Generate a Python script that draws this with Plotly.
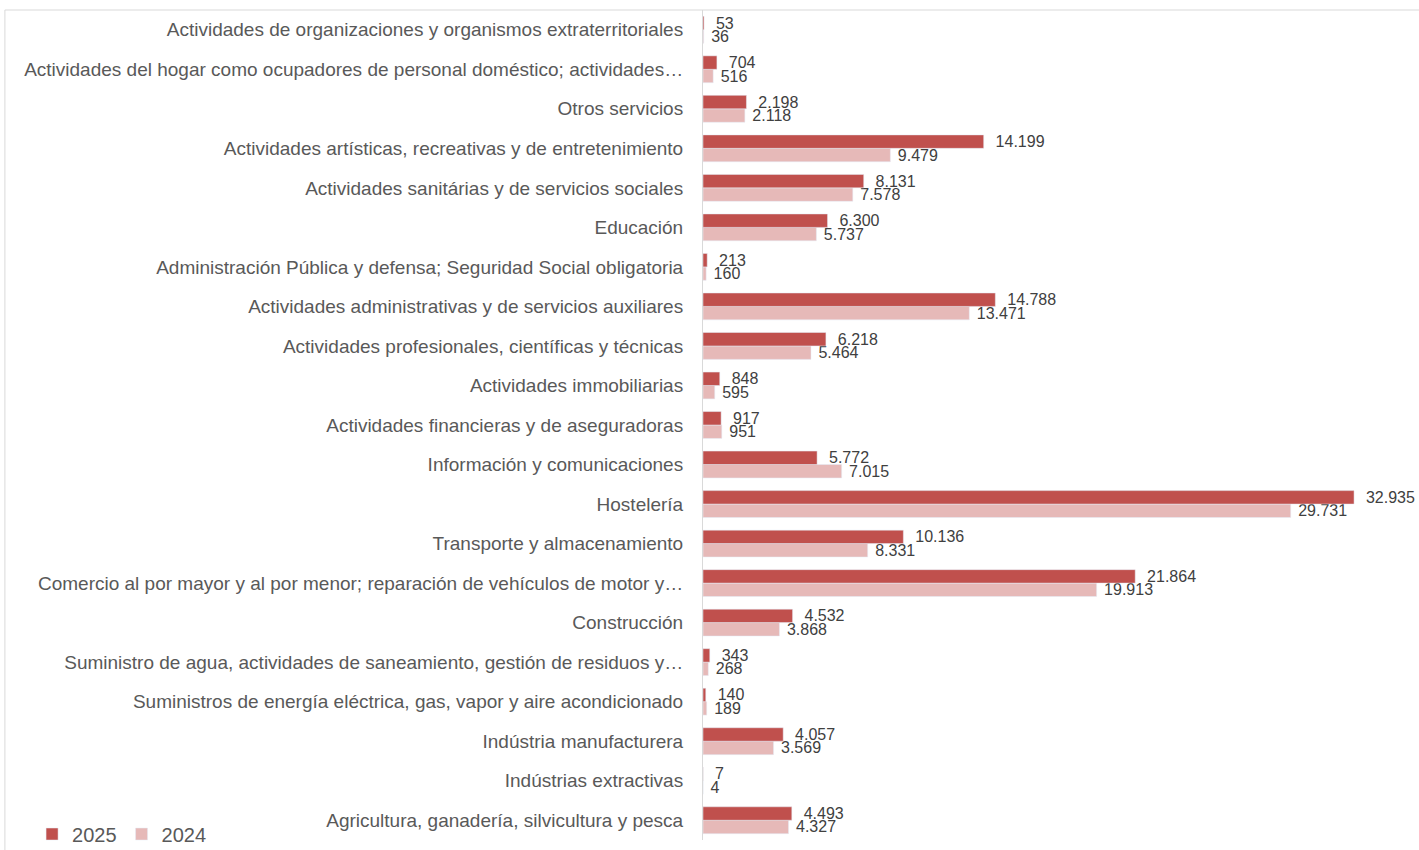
"""Empresas por sector de actividad, 2025 vs 2024"""

import plotly.graph_objects as go

sectores = [
    "Agricultura, ganadería, silvicultura y pesca",
    "Indústrias extractivas",
    "Indústria manufacturera",
    "Suministros de energía eléctrica, gas, vapor y aire acondicionado",
    "Suministro de agua, actividades de saneamiento, gestión de residuos y…",
    "Construcción",
    "Comercio al por mayor y al por menor; reparación de vehículos de motor y…",
    "Transporte y almacenamiento",
    "Hostelería",
    "Información y comunicaciones",
    "Actividades financieras y de aseguradoras",
    "Actividades immobiliarias",
    "Actividades profesionales, científicas y técnicas",
    "Actividades administrativas y de servicios auxiliares",
    "Administración Pública y defensa; Seguridad Social obligatoria",
    "Educación",
    "Actividades sanitárias y de servicios sociales",
    "Actividades artísticas, recreativas y de entretenimiento",
    "Otros servicios",
    "Actividades del hogar como ocupadores de personal doméstico; actividades…",
    "Actividades de organizaciones y organismos extraterritoriales",
]
valores_2025 = [4493, 7, 4057, 140, 343, 4532, 21864, 10136, 32935, 5772, 917,
                848, 6218, 14788, 213, 6300, 8131, 14199, 2198, 704, 53]
valores_2024 = [4327, 4, 3569, 189, 268, 3868, 19913, 8331, 29731, 7015, 951,
                595, 5464, 13471, 160, 5737, 7578, 9479, 2118, 516, 36]

etiqueta = dict(color="#404040", size=16)

fig = go.Figure()
fig.add_trace(go.Bar(
    y=sectores, x=valores_2024, name="2024", orientation="h",
    marker=dict(color="#E6B9B8"),
    texttemplate=" %{x:,}", textposition="outside", cliponaxis=False,
    constraintext="none", textfont=etiqueta,
))
fig.add_trace(go.Bar(
    y=sectores, x=valores_2025, name="2025", orientation="h",
    marker=dict(color="#C0504D"),
    texttemplate="  %{x:,}", textposition="outside", cliponaxis=False,
    constraintext="none", textfont=etiqueta,
))

fig.update_layout(
    width=1419, height=850,
    margin=dict(l=703, r=0, t=10, b=10, autoexpand=False),
    barmode="group", bargap=0.32, bargroupgap=0,
    separators=",.",
    font=dict(family="Liberation Sans, Arial, sans-serif", color="#595959"),
    plot_bgcolor="white", paper_bgcolor="white",
    showlegend=True,
    legend=dict(orientation="h", traceorder="reversed",
                xref="container", x=0.0226, xanchor="left",
                yref="container", y=0.0188, yanchor="middle",
                font=dict(size=20, color="#595959"),
                itemwidth=30, bgcolor="rgba(0,0,0,0)"),
    xaxis=dict(range=[0, 36220], visible=False),
    yaxis=dict(showline=True, linecolor="#D9D9D9", linewidth=1,
               ticks="", tickfont=dict(size=19, color="#595959"),
               ticklabelstandoff=15, showgrid=False),
    shapes=[
        dict(type="line", xref="paper", yref="paper", x0=-0.975, x1=1.01,
             y0=1, y1=1, line=dict(color="#D9D9D9", width=1)),
        dict(type="line", xref="paper", yref="paper", x0=-0.975, x1=-0.975,
             y0=1, y1=-0.02, line=dict(color="#D9D9D9", width=1)),
    ],
)

# drop the default 8px page margin so the figure fills the window exactly
fig.write_html("out.html", config={"displayModeBar": False},
               post_script="document.body.style.margin = '0';")
